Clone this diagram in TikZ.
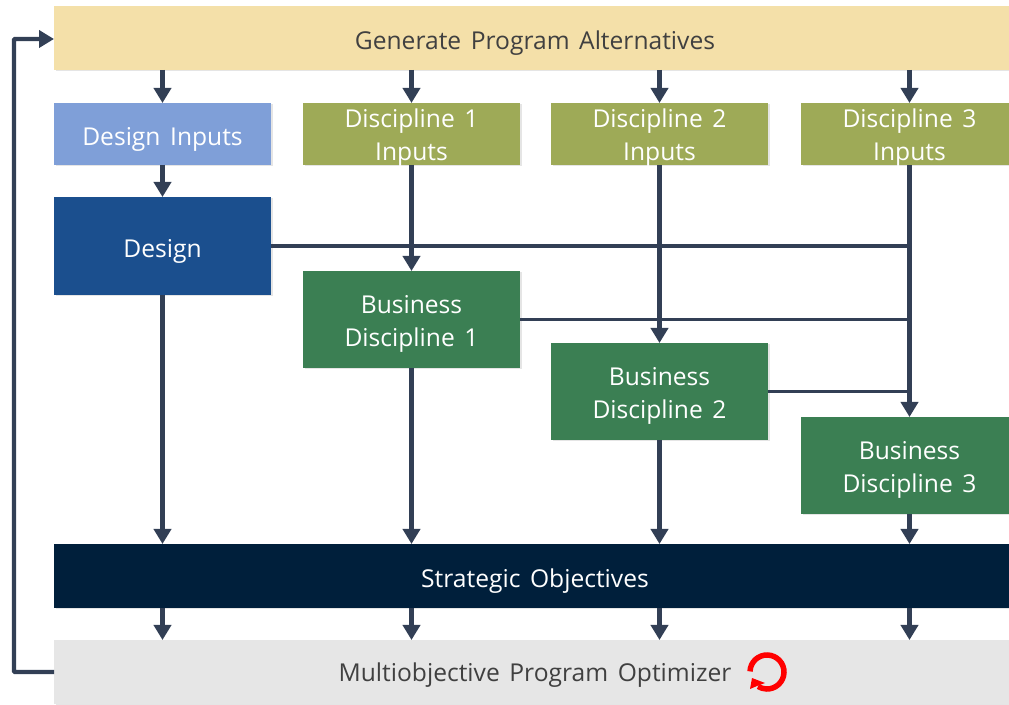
\documentclass[tikz,border=0pt]{standalone}
\usepackage{fontspec}
\setmainfont[WordSpace=1.5]{Open Sans}
\usepackage{xcolor}
\usetikzlibrary{arrows.meta,positioning,shadows}

\definecolor{linkdark}{HTML}{323F55}
\definecolor{genfill}{HTML}{F4E0A9}
\definecolor{inputblue}{HTML}{7F9FD8}
\definecolor{inputolive}{HTML}{9EAA57}
\definecolor{designblue}{HTML}{1B4F8E}
\definecolor{bizgreen}{HTML}{3B7F53}
\definecolor{stratnavy}{HTML}{001F3B}
\definecolor{optgray}{HTML}{E6E6E6}

\begin{document}
\begin{tikzpicture}[
    x=1pt, y=1pt,
    node distance=32pt,
    box/.style={rectangle, inner sep=0pt, outer sep=0pt, align=center, text=white,
        font=\fontsize{24.6}{33}\selectfont, execute at begin node={\rule{0pt}{28pt}},
        drop shadow={shadow xshift=1.5pt, shadow yshift=-1.5pt, opacity=0.1, fill=black}},
    twoline/.style={text depth=0pt, execute at begin node={\rule{0pt}{54pt}}},
    band/.style={box, minimum width=962pt, minimum height=64pt},
    inbox/.style={box, minimum width=217pt, minimum height=62pt},
    bizbox/.style={box, twoline, fill=bizgreen, minimum width=217pt, minimum height=97pt},
    arrow/.style={-{Triangle[length=15pt, width=17pt]}, line width=4.3pt, linkdark},
    link/.style={line width=3.8pt, linkdark}
]
    \useasboundingbox (0,0) rectangle (1009,704);

    % Top band
    \node[band, fill=genfill, text=black!75] (gen) at (535,666) {Generate Program Alternatives};

    % Input row
    \node[inbox, fill=inputblue, below right=33pt and 0pt of gen.south west] (dinp) {Design Inputs};
    \node[inbox, twoline, fill=inputolive, right=32pt of dinp] (inpa) {Discipline 1\\Inputs};
    \node[inbox, twoline, fill=inputolive, right=31pt of inpa] (inpb) {Discipline 2\\Inputs};
    \node[inbox, twoline, fill=inputolive, right=33pt of inpb] (inpc) {Discipline 3\\Inputs};

    % Design and business disciplines
    \node[box, fill=designblue, minimum width=217pt, minimum height=98pt, below=32pt of dinp] (design) {Design};
    \node[bizbox, below=106pt of inpa] (biza) {Business\\Discipline 1};
    \node[bizbox, below=178pt of inpb] (bizb) {Business\\Discipline 2};
    \node[bizbox, below=252pt of inpc] (bizc) {Business\\Discipline 3};

    % Bottom bands
    \node[band, fill=stratnavy] (strat) at (535,128) {Strategic Objectives};
    \node[band, fill=optgray, text=black!75, text depth=9pt, below=32pt of strat] (opt) {Multiobjective Program Optimizer};

    % Top band to inputs
    \foreach \n in {dinp,inpa,inpb,inpc}
        \draw[arrow] (gen.south -| \n) -- (\n);

    % Inputs to boxes
    \draw[arrow] (dinp) -- (design);
    \draw[arrow] (inpa) -- (biza);
    \draw[arrow] (inpb) -- (bizb);
    \draw[arrow] (inpc) -- (bizc);

    % Links across to the last column
    \draw[link] (design) -- (design -| bizc);
    \draw[link] (biza) -- (biza -| bizc);
    \draw[link] (bizb) -- (bizb -| bizc);

    % Boxes to bottom bands
    \foreach \n in {design,biza,bizb,bizc} {
        \draw[arrow] (\n) -- (strat.north -| \n);
        \draw[arrow] (strat.south -| \n) -- (opt.north -| \n);
    }

    % Feedback
    \coordinate (backdn) at (14,32);
    \coordinate (backup) at (14,665);
    \draw[arrow, rounded corners=1pt] (opt.west |- backdn) -- (backdn) -- (backup) -- (gen.west |- backup);

    % Loop mark
    \coordinate (loopc) at ([xshift=232pt]opt.center);
    \draw[red, line width=5.5pt] (loopc) ++(178:17pt) arc[start angle=178, end angle=-122, radius=17pt];
    \fill[red] ([shift={(-15pt,-6pt)}]loopc) -- ([shift={(-2pt,-11pt)}]loopc) -- ([shift={(-10pt,-14pt)}]loopc) -- ([shift={(-17pt,-17pt)}]loopc) -- cycle;
\end{tikzpicture}
\end{document}
